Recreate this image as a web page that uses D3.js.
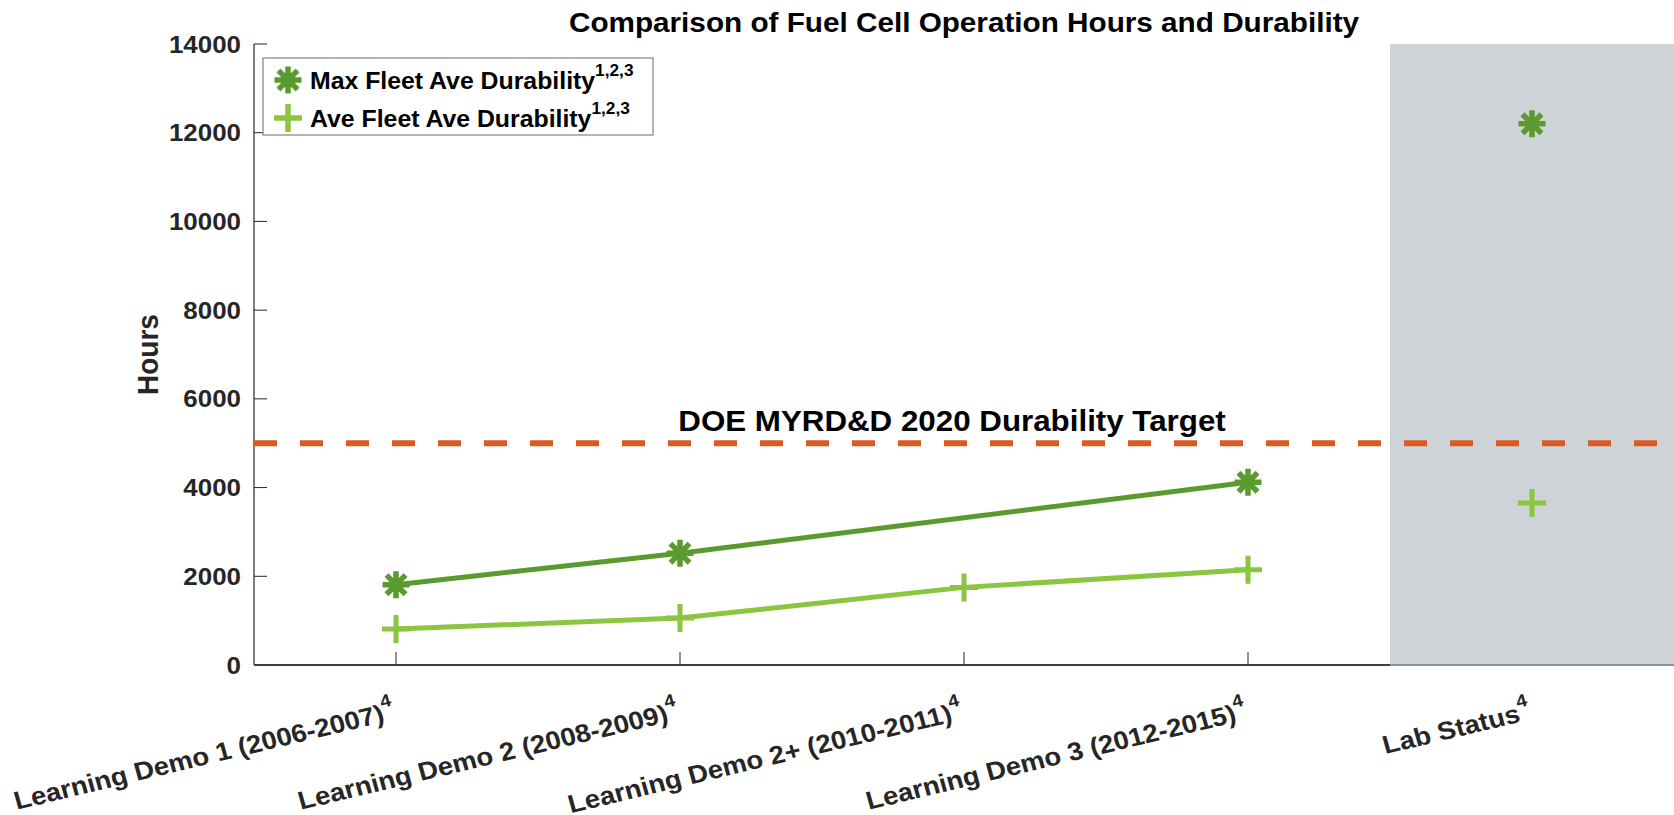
<!DOCTYPE html>
<html>
<head>
<meta charset="utf-8">
<script src="https://cdn.jsdelivr.net/npm/d3@7/dist/d3.min.js"></script>
<style>
html, body { margin: 0; padding: 0; background: #fff; }
svg { display: block; font-family: "Liberation Sans", Arial, Helvetica, sans-serif; font-weight: bold; }
</style>
</head>
<body>
<div id="canvas"></div>
<script>
// values
const categories = ["Learning Demo 1 (2006-2007)", "Learning Demo 2 (2008-2009)",
                    "Learning Demo 2+ (2010-2011)", "Learning Demo 3 (2012-2015)", "Lab Status"];
const catSup = "4";
const maxFleet = [1810, 2520, null, 4120];   // no marker for Demo 2+
const aveFleet = [810, 1060, 1750, 2150];
const labMax = 12200;
const labAve = 3650;
const targetHours = 5000;
const yTicks = [0, 2000, 4000, 6000, 8000, 10000, 12000, 14000];
const legendNames = ["Max Fleet Ave Durability", "Ave Fleet Ave Durability"];
const legendSup = "1,2,3";

const w = 1674, h = 815;
const pLeft = 254, pRight = 1674, pTop = 44, pBottom = 665;
const sx = 1.08;   // the source picture is slightly stretched horizontally

const cMax = "#5B9A2F", cAve = "#8CC53F", cTarget = "#DC5A22", cText = "#262626";

const svg = d3.select("#canvas").append("svg")
    .attr("width", w).attr("height", h)
    .attr("viewBox", [0, 0, w, h]);

const x = d3.scaleLinear().domain([0.5, 5.5]).range([pLeft, pRight]);
const y = d3.scaleLinear().domain([0, 14000]).range([pBottom, pTop]);

// axes (ticks point inward)
const gY = svg.append("g").attr("transform", "translate(" + pLeft + ",0)");
gY.append("line").attr("x1", 0).attr("x2", 0).attr("y1", pTop).attr("y2", pBottom)
    .attr("stroke", cText).attr("stroke-width", 1.2);
gY.selectAll("line.tick").data(yTicks).enter().append("line")
    .attr("class", "tick")
    .attr("x1", 0).attr("x2", 13)
    .attr("y1", d => y(d)).attr("y2", d => y(d))
    .attr("stroke", cText).attr("stroke-width", 1);
gY.selectAll("text").data(yTicks).enter().append("text")
    .attr("transform", d => "translate(-13," + (y(d) + 8.5) + ") scale(" + sx + ",1)")
    .attr("text-anchor", "end")
    .attr("font-size", 24)
    .attr("fill", cText)
    .text(d => d);

svg.append("line").attr("x1", pLeft).attr("x2", pRight).attr("y1", pBottom).attr("y2", pBottom)
    .attr("stroke", "#404040").attr("stroke-width", 2);
svg.selectAll("line.xtick").data(categories).enter().append("line")
    .attr("class", "xtick")
    .attr("x1", (d, i) => x(i + 1)).attr("x2", (d, i) => x(i + 1))
    .attr("y1", pBottom).attr("y2", pBottom - 13)
    .attr("stroke", cText).attr("stroke-width", 1);

// lab status shaded band
svg.append("rect")
    .attr("x", x(4.5)).attr("y", pTop)
    .attr("width", x(5.5) - x(4.5)).attr("height", pBottom - pTop + 1)
    .attr("fill", "#CED3D8");
svg.append("line").attr("x1", x(4.5)).attr("x2", pRight).attr("y1", pBottom).attr("y2", pBottom)
    .attr("stroke", "#8E9398").attr("stroke-width", 2);

// x tick labels, rotated
const xl = svg.selectAll("text.xlab").data(categories).enter().append("text")
    .attr("class", "xlab")
    .attr("transform", (d, i) => "translate(" + x(i + 1) + ",719) scale(" + sx + ",1) rotate(-14.5)")
    .attr("text-anchor", "end")
    .attr("font-size", 25.5)
    .attr("fill", cText);
xl.append("tspan").text(d => d);
xl.append("tspan").attr("font-size", 18).attr("dy", -14).text(catSup);

// y label
svg.append("text")
    .attr("transform", "translate(147," + ((pTop + pBottom) / 2) + ") scale(" + sx + ",1) rotate(-90)")
    .attr("text-anchor", "middle")
    .attr("y", 10)
    .attr("font-size", 28)
    .attr("fill", cText)
    .text("Hours");

// title
svg.append("text")
    .attr("transform", "translate(" + ((pLeft + pRight) / 2) + ",32) scale(" + sx + ",1)")
    .attr("text-anchor", "middle")
    .attr("font-size", 27.5)
    .attr("fill", "#000")
    .text("Comparison of Fuel Cell Operation Hours and Durability");

// target line and label
svg.append("line")
    .attr("x1", pLeft).attr("x2", pRight)
    .attr("y1", y(targetHours)).attr("y2", y(targetHours))
    .attr("stroke", cTarget).attr("stroke-width", 6)
    .attr("stroke-dasharray", "23,23");
svg.append("text")
    .attr("transform", "translate(952,431) scale(" + sx + ",1)")
    .attr("text-anchor", "middle")
    .attr("font-size", 29)
    .attr("fill", "#000")
    .text("DOE MYRD&D 2020 Durability Target");

// markers
function asteriskPath(r) {
    let p = "";
    [0, 45, 90, 135].forEach(a => {
        const dx = r * Math.cos(a * Math.PI / 180), dy = r * Math.sin(a * Math.PI / 180);
        p += "M" + (-dx) + "," + (-dy) + "L" + dx + "," + dy;
    });
    return p;
}
function plusPath(r) {
    return "M" + (-r) + ",0L" + r + ",0M0," + (-r) + "L0," + r;
}

const line = d3.line().x(d => x(d.i)).y(d => y(d.v));

const maxPts = maxFleet.map((v, i) => ({ i: i + 1, v: v })).filter(d => d.v !== null);
const avePts = aveFleet.map((v, i) => ({ i: i + 1, v: v }));

svg.append("path").datum(avePts).attr("d", line)
    .attr("fill", "none").attr("stroke", cAve).attr("stroke-width", 5);
svg.append("path").datum(maxPts).attr("d", line)
    .attr("fill", "none").attr("stroke", cMax).attr("stroke-width", 5);

svg.selectAll("path.maxm").data(maxPts.concat([{ i: 5, v: labMax }])).enter().append("path")
    .attr("class", "maxm")
    .attr("transform", d => "translate(" + x(d.i) + "," + y(d.v) + ")")
    .attr("d", asteriskPath(13.5))
    .attr("stroke", cMax).attr("stroke-width", 5.5).attr("fill", "none");
svg.selectAll("path.avem").data(avePts.concat([{ i: 5, v: labAve }])).enter().append("path")
    .attr("class", "avem")
    .attr("transform", d => "translate(" + x(d.i) + "," + y(d.v) + ")")
    .attr("d", plusPath(14))
    .attr("stroke", cAve).attr("stroke-width", 5).attr("fill", "none");

// legend
const lg = svg.append("g");
lg.append("rect").attr("x", 263).attr("y", 58).attr("width", 390).attr("height", 77)
    .attr("fill", "#fff").attr("stroke", "#6b6b6b").attr("stroke-width", 1);
const legendRows = [
    { name: legendNames[0], color: cMax, path: asteriskPath(13.5), cy: 80 },
    { name: legendNames[1], color: cAve, path: plusPath(14), cy: 118 }
];
legendRows.forEach(r => {
    lg.append("path").attr("transform", "translate(288," + r.cy + ")")
        .attr("d", r.path).attr("stroke", r.color).attr("stroke-width", 5.5).attr("fill", "none");
    const t = lg.append("text")
        .attr("transform", "translate(310," + (r.cy + 8.5) + ") scale(" + sx + ",1)")
        .attr("font-size", 23).attr("fill", "#000");
    t.append("tspan").text(r.name);
    t.append("tspan").attr("font-size", 16).attr("dy", -13).text(legendSup);
});
</script>
</body>
</html>
